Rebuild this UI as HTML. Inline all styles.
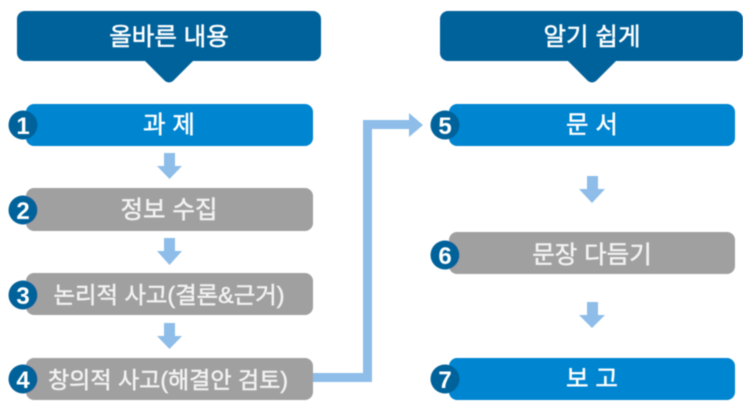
<!DOCTYPE html>
<html>
<head>
<meta charset="utf-8">
<style>
html,body{margin:0;padding:0;background:#fff;width:743px;height:404px;overflow:hidden}
svg{display:block}
text{font-family:"Liberation Sans","Noto Sans CJK KR",sans-serif;fill:#fff;text-anchor:middle;stroke:#fff;stroke-width:0.5px}
.h{font-size:24.5px}
.b{font-size:24.5px}
.s{font-size:23px}
.n{font-family:"Liberation Sans",sans-serif;font-size:24px;font-weight:700;stroke-width:0}
.g{fill:#f2f2f2;stroke:#f2f2f2}
</style>
</head>
<body>
<svg width="743" height="404" viewBox="0 0 743 404" xmlns="http://www.w3.org/2000/svg">
<defs>
<filter id="f" x="-5%" y="-5%" width="110%" height="110%"><feGaussianBlur stdDeviation="0.6"/></filter>
<filter id="t" x="-5%" y="-5%" width="110%" height="110%"><feGaussianBlur stdDeviation="0.4"/></filter>
</defs>
<g filter="url(#f)">
<!-- headers -->
<path d="M25 11H313a8 8 0 0 1 8 8V53a8 8 0 0 1-8 8H193L173 81q-4 3-8 0L145 61H25a8 8 0 0 1-8-8V19a8 8 0 0 1 8-8Z" fill="#00629b"/>
<path d="M448 11H735a8 8 0 0 1 8 8V53a8 8 0 0 1-8 8H616L596 81q-4 3-8 0L568 61H448a8 8 0 0 1-8-8V19a8 8 0 0 1 8-8Z" fill="#00629b"/>
<!-- connector -->
<path d="M313 373H363V120H409V113L423 125L409 137V129H372V382H313Z" fill="#8dbde8"/>
<!-- left boxes -->
<rect x="26" y="104" width="287" height="42" rx="8" fill="#0585d0"/>
<rect x="26" y="188" width="287" height="43" rx="8" fill="#a0a0a0"/>
<rect x="26" y="273" width="287" height="42" rx="8" fill="#a0a0a0"/>
<rect x="26" y="358" width="287" height="42" rx="8" fill="#a0a0a0"/>
<!-- right boxes -->
<rect x="449" y="104" width="286" height="42" rx="8" fill="#0585d0"/>
<rect x="449" y="232" width="286" height="42" rx="8" fill="#a0a0a0"/>
<rect x="449" y="358" width="286" height="42" rx="8" fill="#0585d0"/>
<!-- down arrows -->
<g fill="#8dbde8">
<path d="M164 153H175V166H182L169.500 179L157 166H164Z"/>
<path d="M164 238H175V251H182L169.500 265L157 251H164Z"/>
<path d="M164 323H175V336H182L169.500 349L157 336H164Z"/>
<path d="M587 176H598V189H605L592 203L579 189H587Z"/>
<path d="M587 302H598V315H605L592 328L579 315H587Z"/>
</g>
<!-- circles -->
<g fill="#00629b">
<circle cx="23" cy="125" r="14.500"/>
<circle cx="23" cy="210" r="14.500"/>
<circle cx="23" cy="295" r="14.500"/>
<circle cx="23" cy="379" r="14.500"/>
<circle cx="445" cy="125" r="14.500"/>
<circle cx="445" cy="255" r="14.500"/>
<circle cx="445" cy="379" r="14.500"/>
</g>
</g>
<!-- labels -->
<g filter="url(#t)">
<text class="h" x="169" y="45">올바른 내용</text>
<text class="h" x="592" y="45">알기 쉽게</text>
<text class="b" x="169" y="133">과 제</text>
<text class="b g" x="169" y="218">정보 수집</text>
<text class="s g" x="169" y="303" textLength="231" lengthAdjust="spacingAndGlyphs">논리적 사고(결론&amp;근거)</text>
<text class="s g" x="168" y="388" textLength="240" lengthAdjust="spacingAndGlyphs">창의적 사고(해결안 검토)</text>
<text class="b" x="592" y="133">문 서</text>
<text class="b g" x="592" y="263">문장 다듬기</text>
<text class="b" x="592" y="387">보 고</text>
<text class="n" x="23" y="134">1</text>
<text class="n" x="23" y="219">2</text>
<text class="n" x="23" y="304">3</text>
<text class="n" x="23" y="388">4</text>
<text class="n" x="445" y="134">5</text>
<text class="n" x="445" y="264">6</text>
<text class="n" x="445" y="388">7</text>
</g>
</svg>
</body>
</html>
